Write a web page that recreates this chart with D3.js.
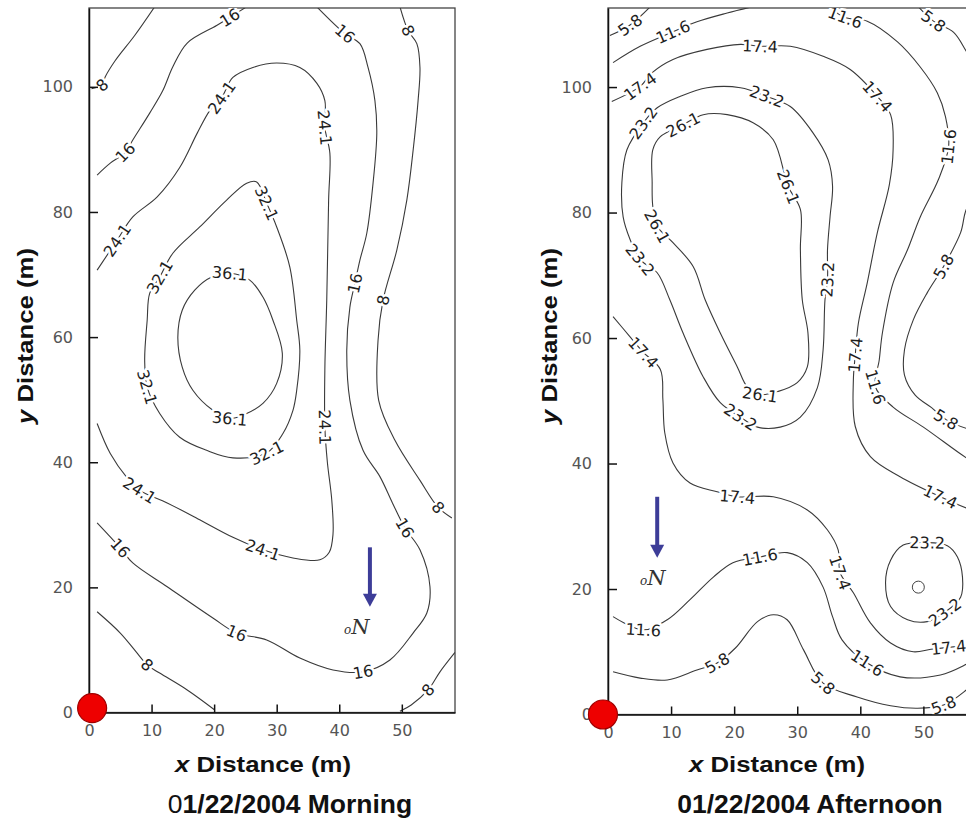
<!DOCTYPE html>
<html lang="en">
<head>
<meta charset="UTF-8" />
<title>Contour maps 01/22/2004</title>
<style>
  body { margin: 0; background: #fff; }
  svg { display: block; }
  .contour { fill: none; stroke: #3a3a3a; stroke-width: 1.1; }
  .clabel { font-family: "DejaVu Sans", sans-serif; font-size: 16px; fill: #1e1e1e; }
  .halo { font-family: "DejaVu Sans", sans-serif; font-size: 16px; fill: #fff;
          stroke: #fff; stroke-width: 5px; stroke-linejoin: round; }
  .frame { fill: none; stroke: #444; stroke-width: 1.3; }
  .axis path, .axis line { stroke: #111; stroke-width: 1.5; }
  .axis text { font-family: "DejaVu Sans", sans-serif; font-size: 16px; fill: #555; }
  .title { font-family: "Liberation Sans", Arial, sans-serif; font-weight: bold; fill: #111; }
</style>
</head>
<body>
<script src="https://cdn.jsdelivr.net/npm/d3@7"></script>
<script>

// ---- data (x m, y m); a third value of 1 marks a label position ----
var xTicks = [0, 10, 20, 30, 40, 50];
var yTicks = [0, 20, 40, 60, 80, 100];

// morning contours
var am8TopLeft = [[10.5,112.8],[7.3,108.2],[4.2,104.2],[2.6,101.6],[2.1,100.3,1],[0.4,99.7]];
var am16TopLeft = [[25.2,112.8],[22.5,111.1,1],[20.4,109.8],[15.7,107.0],[13.4,103.2],[11.8,99.4],[9.7,95.8],[7.0,91.5],[5.8,89.5,1],[3.4,87.8],[1.3,85.9]];
var am24 = [[1.3,70.7],[4.5,75.5,1],[7.0,79.2],[10.9,82.4],[14.5,87.1],[17.3,92.6],[19.3,96.2],[21.2,98.3,1],[23.0,101.5],[26.2,103.1],[30.0,103.8],[33.7,103.1],[36.4,100.6],[37.7,97.8],[37.7,93.5,1],[38.5,89.4],[38.3,81.9],[38.0,65.9],[37.7,55.0],[37.7,45.6,1],[38.1,40.0],[38.8,34.0],[39.0,28.5],[38.4,25.6],[36.9,24.4],[32.6,24.7],[27.8,26.0,1],[23.0,28.0],[17.7,30.8],[12.5,33.5],[8.1,35.5,1],[6.1,37.5],[3.4,41.4],[1.3,46.2]];
var am32 = [[13.4,73.4],[17.7,77.6],[22.0,81.9],[25.2,84.6],[26.8,84.8],[28.4,81.4,1],[30.0,77.6],[32.1,71.2],[33.2,62.7],[33.7,57.9],[33.2,51.5],[32.6,48.3],[31.0,44.6],[28.4,41.5,1],[23.0,40.7],[18.8,41.9],[14.5,44.0],[11.3,47.8],[9.3,52.0,1],[8.9,56.3],[9.3,62.7],[9.7,67.0],[11.3,69.6,1]];
var am36 = [[22.5,70.2,1],[25.7,69.1],[27.8,66.4],[29.4,62.7],[30.9,57.4],[30.0,52.6],[27.8,49.4],[25.2,47.8],[22.5,47.0,1],[19.8,48.3],[16.6,51.5],[14.9,55.2],[14.2,60.0],[14.9,64.3],[16.9,67.5],[19.6,69.6]];
var am16Right = [[36.4,112.8],[40.9,108.5,1],[43.3,106.9],[44.6,103.1],[45.7,97.8],[46.0,92.6],[45.4,84.6],[44.4,76.6],[43.3,72.3],[42.5,68.6,1],[41.7,64.8],[41.2,57.9],[41.7,49.9],[43.8,41.9],[46.5,37.7],[48.5,33.5],[50.5,29.5,1],[52.9,26.0],[54.5,20.1],[54.0,15.9],[51.8,12.7],[48.1,8.4],[43.8,6.5,1],[39.0,6.8],[33.7,8.7],[28.4,11.6],[23.6,12.7,1],[19.8,15.1],[12.5,20.1],[7.0,23.9],[5.0,26.3,1],[1.3,30.3]];
var am8Right = [[49.7,112.8],[51.0,109.0,1],[52.4,106.9],[52.9,103.1],[52.6,97.8],[51.8,89.8],[50.8,81.9],[49.2,73.9],[47.0,65.9,1],[46.2,59.5],[46.3,49.9],[48.9,43.5],[52.9,37.1],[55.8,32.8,1],[58.0,31.1]];
var am8BottomRight = [[58.5,9.6],[56.1,6.5],[54.2,3.6,1],[51.5,1.2],[49.7,0.2]];
var am8BottomLeft = [[1.3,16.1],[5.0,12.7],[7.7,9.5],[9.3,7.6,1],[11.3,6.3],[15.7,3.6],[20.1,0.4]];

// afternoon contours
var pm58TopLeft = [[0.3,108.2],[3.5,109.9,1],[6.7,112.8]];
var pm116TopLeft = [[0.8,103.9],[5.1,106.5],[10.3,108.8,1],[14.1,110.4],[18.9,111.8],[22.9,112.8]];
var pm116Right = [[34.9,112.8],[37.6,111.1,1],[41.1,110.5],[45.9,107.2],[49.5,103.2],[52.2,99.1],[53.5,95.3],[54.0,90.5,1],[52.4,85.3],[49.5,79.3],[47.5,74.1],[45.2,68.8],[43.5,60.8],[43.0,56.5],[42.4,52.2,1],[45.2,49.0],[50.0,45.8],[56.8,40.9],[58.5,39.9]];
var pm58TopRight = [[49.2,112.8],[51.6,110.5,1],[54.8,108.7],[56.8,105.7],[58.5,103.0]];
var pm58Right = [[58.5,83.0],[56.8,80.5],[55.9,76.8],[53.2,71.4,1],[50.6,67.2],[48.4,62.9],[47.0,58.1],[47.0,54.1],[48.7,50.9],[51.3,48.9],[53.6,47.0,1],[56.8,45.6],[58.5,45.2]];
var pm174 = [[0.6,97.7],[5.1,100.1,1],[7.0,102.3],[10.3,104.4],[15.7,106.0],[21.0,106.8],[24.1,106.5,1],[28.9,106.5],[34.1,104.9],[38.4,102.8],[42.7,98.5,1],[44.8,95.6],[45.2,90.0],[44.6,84.4],[42.7,76.8],[41.1,68.8],[39.7,62.4],[39.2,57.3,1],[38.9,53.3],[39.2,45.9],[41.6,41.1],[46.3,37.9],[52.7,34.7,1],[56.8,32.9],[58.5,32.3]];
var pm174Low = [[0.8,63.4],[3.5,60.2],[5.6,57.7,1],[8.3,55.0],[8.7,50.2],[9.0,44.9],[10.3,40.1],[13.0,36.9],[17.3,35.5],[20.5,34.7,1],[26.2,34.7],[31.6,32.6],[34.8,29.4],[36.5,26.2],[36.8,22.6,1],[38.9,19.4],[41.6,14.6],[44.8,11.4],[48.4,10.0],[51.2,10.4],[54.0,10.7,1],[58.5,11.2]];
var pm232 = [[7.8,96.7],[11.4,98.5],[15.7,99.9],[21.0,99.9],[25.2,98.5,1],[28.9,96.9],[32.5,92.7],[34.9,88.4],[35.6,84.2],[35.2,79.3],[34.8,74.1],[34.8,69.3,1],[34.4,66.1],[34.1,58.1],[33.2,52.1],[30.5,47.4],[27.3,45.8],[23.7,45.8],[21.0,47.4,1],[17.8,49.7],[15.1,53.8],[11.9,60.8],[9.8,66.1],[7.8,70.4],[5.1,72.5,1],[3.5,75.7],[2.4,79.3],[2.2,84.8],[3.0,90.0],[5.6,94.3,1]];
var pm261 = [[11.9,94.0,1],[15.1,95.6],[18.9,95.6],[23.0,94.3],[26.2,91.6],[28.6,84.1,1],[30.5,80.5],[30.5,74.1],[30.8,66.1],[31.7,60.8],[31.6,55.4],[30.0,52.9],[27.0,51.5],[24.1,51.0,1],[22.1,52.2],[20.5,55.4],[17.8,60.8],[15.4,66.1],[13.5,71.4],[10.3,75.2],[7.8,77.8,1],[7.1,81.0],[7.0,84.8],[7.1,90.0],[8.3,92.1]];
var pm116Low = [[0.8,15.6],[5.6,13.5,1],[9.4,15.1],[13.0,18.3],[16.7,21.9],[19.8,24.2],[24.1,25.1,1],[28.4,25.8],[31.6,24.2],[34.1,20.3],[35.6,15.6],[37.1,11.9],[41.1,8.2,1],[46.3,6.0],[52.7,6.3],[56.8,8.0],[58.5,9.0]];
var pm58Low = [[0.8,6.8],[5.1,5.8],[9.4,5.5],[14.1,7.1],[17.3,8.2,1],[20.2,10.6],[23.7,14.8],[26.2,15.9],[28.4,15.1],[31.0,10.3],[34.1,5.0,1],[39.5,2.8],[44.8,1.4],[49.0,1.0],[53.2,1.5,1],[56.8,3.9],[58.5,5.5]];
var pm232Small = [[50.6,27.4,1],[53.8,26.9],[55.4,25.1],[56.2,21.9],[55.9,18.7],[53.4,16.3,1],[50.6,14.8],[47.5,15.1],[44.8,17.2],[44.0,21.0],[44.8,24.6],[46.8,27.0]];
var pmPeak = [[49.2, 20.3]];

// well location and north arrows: [x, yStart, yEnd], glyph [x, y]
var amWell = [0.5, 0.7];
var pmWell = [-0.8, 0.0];
var amNorth = [44.9, 26.4, 16.9];
var amNorthGlyph = [42.8, 13.6];
var pmNorth = [7.8, 34.7, 25.0];
var pmNorthGlyph = [7.1, 21.8];

// ---- drawing ----
var w = 966, h = 818;

var svg = d3.select("body").append("svg")
    .attr("width", w)
    .attr("height", h);

function drawPanel(p) {
  var x = d3.scaleLinear().domain([0, 58.5]).range([p.left, p.right]);
  var y = d3.scaleLinear().domain([0, 112.6]).range([p.bottom, p.top]);

  var g = svg.append("g");

  g.append("clipPath").attr("id", p.id)
    .append("rect")
    .attr("x", p.left).attr("y", p.top)
    .attr("width", p.right - p.left).attr("height", p.bottom - p.top);

  // frame
  g.append("rect").attr("class", "frame")
    .attr("x", p.left).attr("y", p.top)
    .attr("width", p.right - p.left).attr("height", p.bottom - p.top);

  var plot = g.append("g").attr("clip-path", "url(#" + p.id + ")");

  var lineOpen = d3.line().x(function(d) { return x(d[0]); }).y(function(d) { return y(d[1]); })
      .curve(d3.curveCatmullRom.alpha(0.5));
  var lineClosed = d3.line().x(function(d) { return x(d[0]); }).y(function(d) { return y(d[1]); })
      .curve(d3.curveCatmullRomClosed.alpha(0.5));

  p.contours.forEach(function(c) {
    plot.append("path").attr("class", "contour")
      .attr("d", c.closed ? lineClosed(c.pts) : lineOpen(c.pts));
  });

  // labels along the lines: collect, then draw halo and text
  var labels = [];
  p.contours.forEach(function(c) {
    var n = c.pts.length;
    c.pts.forEach(function(d, i) {
      if (d[2] !== 1) return;
      var a = c.pts[c.closed ? (i - 1 + n) % n : Math.max(i - 1, 0)];
      var b = c.pts[c.closed ? (i + 1) % n : Math.min(i + 1, n - 1)];
      var ang = Math.atan2(y(b[1]) - y(a[1]), x(b[0]) - x(a[0])) * 180 / Math.PI;
      if (ang > 90) ang -= 180;
      if (ang < -90) ang += 180;
      labels.push({ x: x(d[0]), y: y(d[1]), ang: ang, text: c.level });
    });
  });

  ["halo", "clabel"].forEach(function(cls) {
    plot.selectAll("text." + cls).data(labels).enter().append("text")
      .attr("class", cls)
      .attr("transform", function(d) { return "translate(" + d.x + "," + d.y + ") rotate(" + d.ang + ")"; })
      .attr("text-anchor", "middle")
      .attr("dy", "0.36em")
      .text(function(d) { return d.text; });
  });

  if (p.peak) {
    plot.selectAll(".peak").data(p.peak).enter().append("circle")
      .attr("cx", function(d) { return x(d[0]); })
      .attr("cy", function(d) { return y(d[1]); })
      .attr("r", 6)
      .attr("fill", "none").attr("stroke", "#444").attr("stroke-width", 1);
  }

  // axes
  var yAxis = d3.axisLeft(y).tickValues(yTicks).tickSizeInner(-9).tickSizeOuter(0).tickPadding(16);
  var xAxis = d3.axisBottom(x).tickValues(xTicks).tickSizeInner(-8).tickSizeOuter(0).tickPadding(12);

  g.append("g").attr("class", "axis")
    .attr("transform", "translate(0," + p.bottom + ")")
    .call(xAxis)
    .attr("font-family", null).attr("font-size", null);

  g.append("g").attr("class", "axis")
    .attr("transform", "translate(" + p.left + ",0)")
    .call(yAxis)
    .attr("font-family", null).attr("font-size", null);

  // north arrow
  var ax = x(p.north[0]), ay0 = y(p.north[1]), ay1 = y(p.north[2]);
  g.append("line")
    .attr("x1", ax).attr("x2", ax)
    .attr("y1", ay0).attr("y2", ay1 - 11)
    .attr("stroke", "#3d3d98").attr("stroke-width", 4);
  g.append("path")
    .attr("d", "M" + (ax - 7) + "," + (ay1 - 13) + "L" + (ax + 7) + "," + (ay1 - 13) + "L" + ax + "," + ay1 + "Z")
    .attr("fill", "#3d3d98");
  var ng = g.append("text")
    .attr("x", x(p.northGlyph[0])).attr("y", y(p.northGlyph[1]) + 7)
    .attr("text-anchor", "middle")
    .attr("font-family", "DejaVu Serif, serif").attr("font-style", "italic")
    .attr("fill", "#333");
  ng.append("tspan").attr("font-size", 12).text("o");
  ng.append("tspan").attr("font-size", 21).text("N");

  // well
  g.append("circle")
    .attr("cx", x(p.well[0])).attr("cy", y(p.well[1]))
    .attr("r", 14.5)
    .attr("fill", "#ee0000").attr("stroke", "#a00000").attr("stroke-width", 1.2);

  // titles
  var xt = g.append("text").attr("class", "title")
    .attr("text-anchor", "middle").attr("font-size", 22)
    .attr("transform", "translate(" + p.xTitleX + ",772) scale(1.17,1)");
  xt.append("tspan").attr("font-style", "italic").text("x");
  xt.append("tspan").text(" Distance (m)");

  var yt = g.append("text").attr("class", "title")
    .attr("text-anchor", "middle").attr("font-size", 22)
    .attr("transform", "translate(" + p.yTitleX + ",336) rotate(-90) scale(1.17,1)");
  yt.append("tspan").attr("font-style", "italic").text("y");
  yt.append("tspan").text(" Distance (m)");

  var dt = g.append("text").attr("class", "title")
    .attr("text-anchor", "middle").attr("font-size", 25)
    .attr("transform", "translate(" + p.dateX + ",813) scale(1.06,1)");
  p.date.forEach(function(part) {
    dt.append("tspan").attr("font-weight", part[1]).text(part[0]);
  });
}

drawPanel({
  id: "clipAm", left: 89, right: 455, top: 8, bottom: 712.5,
  contours: [
    { level: "8", pts: am8TopLeft },
    { level: "16", pts: am16TopLeft },
    { level: "24.1", pts: am24 },
    { level: "32.1", pts: am32, closed: true },
    { level: "36.1", pts: am36, closed: true },
    { level: "16", pts: am16Right },
    { level: "8", pts: am8Right },
    { level: "8", pts: am8BottomRight },
    { level: "8", pts: am8BottomLeft }
  ],
  north: amNorth, northGlyph: amNorthGlyph, well: amWell,
  xTitleX: 263, yTitleX: 33, dateX: 290,
  date: [["0", "normal"], ["1/22/2004 Morning", "bold"]]
});

drawPanel({
  id: "clipPm", left: 608, right: 977, top: 8, bottom: 714.5,
  contours: [
    { level: "5.8", pts: pm58TopLeft },
    { level: "11.6", pts: pm116TopLeft },
    { level: "11.6", pts: pm116Right },
    { level: "5.8", pts: pm58TopRight },
    { level: "5.8", pts: pm58Right },
    { level: "17.4", pts: pm174 },
    { level: "17.4", pts: pm174Low },
    { level: "23.2", pts: pm232, closed: true },
    { level: "26.1", pts: pm261, closed: true },
    { level: "11.6", pts: pm116Low },
    { level: "5.8", pts: pm58Low },
    { level: "23.2", pts: pm232Small, closed: true }
  ],
  peak: pmPeak,
  north: pmNorth, northGlyph: pmNorthGlyph, well: pmWell,
  xTitleX: 777, yTitleX: 557, dateX: 810,
  date: [["01/22/2004 Afternoon", "bold"]]
});

</script>
</body>
</html>
